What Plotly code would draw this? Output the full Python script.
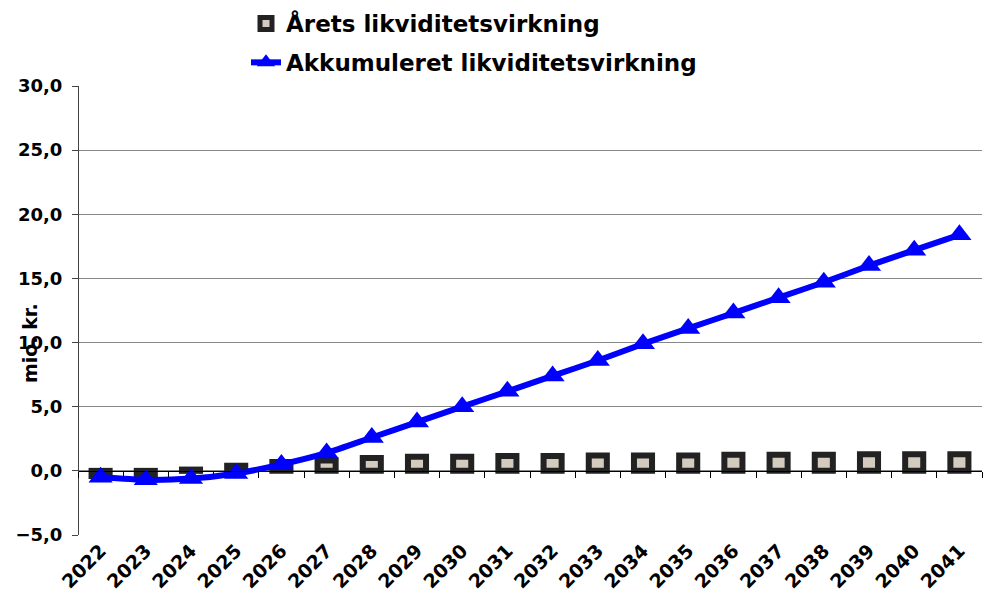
import plotly.graph_objects as go

years = [str(y) for y in range(2022, 2042)]
aarets = [-0.4, -0.3, 0.1, 0.4, 0.7, 0.8, 1.0, 1.1, 1.1, 1.15, 1.15, 1.2, 1.2, 1.2, 1.25, 1.25, 1.25, 1.3, 1.3, 1.3]
akkum = [-0.5, -0.7, -0.6, -0.2, 0.5, 1.4, 2.6, 3.8, 5.0, 6.2, 7.4, 8.6, 9.9, 11.1, 12.3, 13.5, 14.7, 16.0, 17.2, 18.4]
yticks = [-5, 0, 5, 10, 15, 20, 25, 30]

FONT = "DejaVu Sans"

fig = go.Figure()
fig.add_trace(go.Bar(
    x=years, y=aarets, name="Årets likviditetsvirkning",
    marker=dict(color="#d4cbbf", line=dict(color="#222222", width=6)),
    width=0.4, xaxis="x", yaxis="y", legendgroup="a",
))
fig.add_trace(go.Scatter(
    x=years, y=akkum, name="Akkumuleret likviditetsvirkning",
    mode="lines+markers", line=dict(color="#0000ff", width=6, shape="spline", smoothing=0.6),
    marker=dict(symbol="triangle-up", size=21, color="#0000ff"),
    xaxis="x2", yaxis="y", legendgroup="b",
))

fig.update_layout(
    width=990, height=598,
    margin=dict(l=78, r=8, t=86, b=63, autoexpand=False),
    paper_bgcolor="white", plot_bgcolor="white",
    font=dict(family=FONT, size=18, color="black"),
    separators=",.",
    showlegend=True,
    legend=dict(
        xref="container", yref="container", x=246/990, y=1 - 2/598,
        xanchor="left", yanchor="top",
        font=dict(family=FONT, size=23, color="black", weight="bold"),
        traceorder="grouped", tracegroupgap=6, bgcolor="rgba(0,0,0,0)",
    ),
    xaxis=dict(
        type="category", categoryorder="array", categoryarray=years,
        range=[-0.5, 19.5], domain=[0, 1], anchor="free", position=5/35,
        showline=True, linecolor="black", linewidth=1,
        ticks="outside", tickson="boundaries", ticklen=6, tickcolor="black",
        showticklabels=False, showgrid=False, zeroline=False, automargin=False,
    ),
    xaxis2=dict(
        type="category", categoryorder="array", categoryarray=years,
        range=[-0.5, 19.5], domain=[0, 1], overlaying="x", anchor="y", side="bottom",
        showline=False, ticks="", showgrid=False, zeroline=False,
        tickmode="array", tickvals=years, ticktext=years,
        tickangle=-45, tickfont=dict(family=FONT, size=19, weight="bold"), automargin=False,
    ),
    yaxis=dict(
        range=[-5, 30], tickvals=yticks, tickformat=".1f", domain=[0, 1],
        anchor="free", position=0,
        showgrid=True, gridcolor="#888888", gridwidth=1,
        showline=True, linecolor="#444444", linewidth=1,
        ticks="outside", ticklen=6, tickcolor="#444444", ticklabelstandoff=6,
        zeroline=False, tickfont=dict(family=FONT, size=18, weight="bold"), automargin=False,
    ),
    bargap=0.6,
    annotations=[dict(
        text="mio. kr.", xref="paper", yref="paper",
        x=(30 - 78) / 904, y=(535 - 343) / 449, showarrow=False, textangle=-90,
        font=dict(family=FONT, size=19, weight="bold"), xanchor="center", yanchor="middle",
    )],
)

fig.write_html("out.html")
